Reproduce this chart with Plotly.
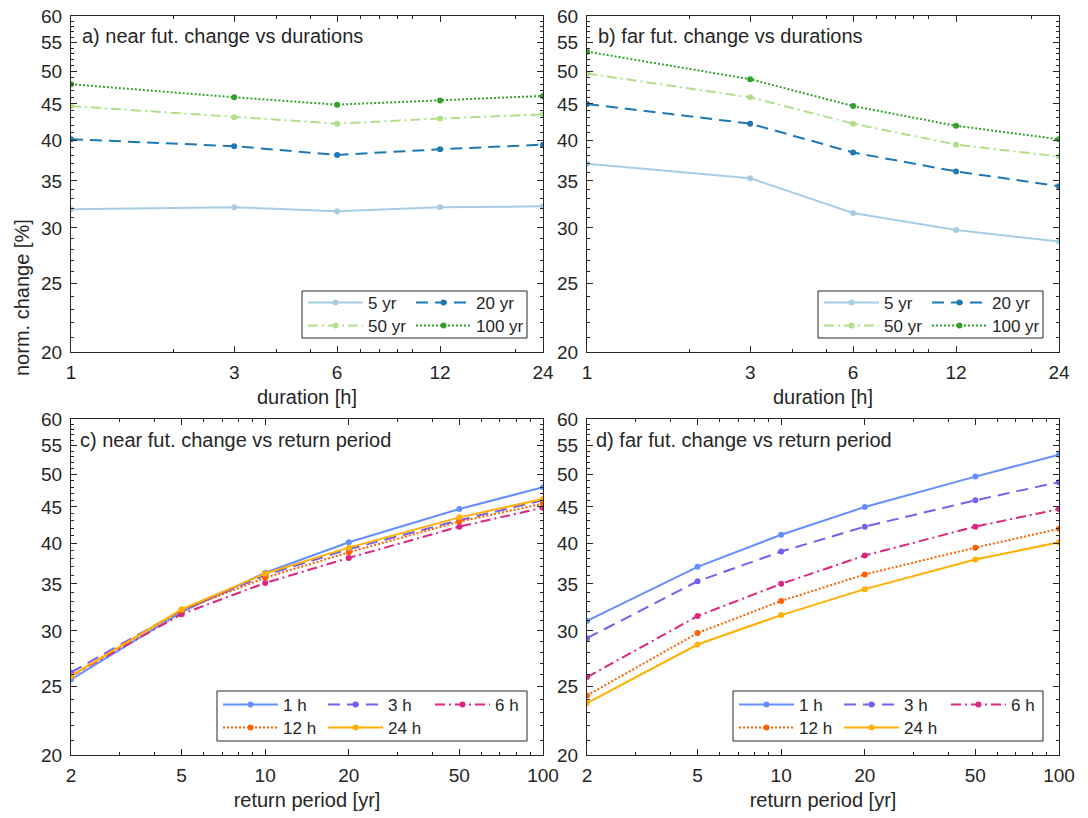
import plotly.graph_objects as go

# ---------------- data ----------------
durations = [1, 3, 6, 12, 24]
duration_labels = ["1 h", "3 h", "6 h", "12 h", "24 h"]
return_periods = [2, 5, 10, 20, 50, 100]
legend_periods = [5, 20, 50, 100]
period_labels = ["5 yr", "20 yr", "50 yr", "100 yr"]

# near future normalised change [%] per duration, over return_periods
near_1h = [25.6, 31.9, 36.3, 40.1, 44.7, 48.0]
near_3h = [26.2, 32.1, 36.0, 39.2, 43.1, 46.0]
near_6h = [25.9, 31.7, 35.1, 38.1, 42.2, 44.9]
near_12h = [25.9, 32.1, 35.7, 38.8, 42.9, 45.5]
near_24h = [25.9, 32.2, 36.2, 39.4, 43.5, 46.2]

# far future normalised change [%] per duration, over return_periods
far_1h = [31.0, 37.0, 41.1, 45.0, 49.7, 53.4]
far_3h = [29.3, 35.3, 38.9, 42.2, 46.0, 48.8]
far_6h = [25.8, 31.5, 35.0, 38.4, 42.2, 44.7]
far_12h = [24.3, 29.8, 33.1, 36.1, 39.4, 41.9]
far_24h = [23.7, 28.7, 31.6, 34.4, 37.9, 40.1]

near = [near_1h, near_3h, near_6h, near_12h, near_24h]
far = [far_1h, far_3h, far_6h, far_12h, far_24h]

y_ticks = [20, 25, 30, 35, 40, 45, 50, 55, 60]
x_ticks_top = [1, 3, 6, 12, 24]
x_ticks_bottom = [2, 5, 10, 20, 50, 100]

panel_titles = ["a) near fut. change vs durations", "b) far fut. change vs durations",
                "c) near fut. change vs return period", "d) far fut. change vs return period"]

# ---------------- styles ----------------
W, H = 1088, 818
FONT = "Liberation Sans, Arial, Helvetica, sans-serif"
TXT = "#262626"
period_colors = ["#a6cee3", "#1f78b4", "#b2df8a", "#33a02c"]
period_dash = ["solid", "12px,7px", "10px,4px,2px,4px", "2px,2px"]
dur_colors = ["#648FFF", "#785EF0", "#DC267F", "#FE6100", "#FFB000"]
dur_dash = ["solid", "12px,7px", "10px,4px,2px,4px", "2px,2px", "solid"]
LW = 2
MS = 6


def px_x(p):
    return p / W


def px_y(p):
    return 1 - p / H


# legend grid positions (px): column x of each entry, row y of each entry
period_leg_col = [0, 1, 0, 1]
period_leg_row = [0, 0, 1, 1]
dur_leg_col = [0, 1, 2, 0, 1]
dur_leg_row = [0, 0, 0, 1, 1]
leg_col_x = {1: [303, 411], 2: [819, 927], 3: [218, 323, 430], 4: [734, 839, 946]}
leg_row_y = {1: [303, 326], 2: [303, 326], 3: [705, 728], 4: [705, 728]}

fig = go.Figure()
layout = {}
leg_common = dict(
    orientation="v", bgcolor="rgba(0,0,0,0)", borderwidth=0, itemwidth=55,
    font=dict(family=FONT, size=17, color=TXT), xanchor="left", yanchor="middle",
    tracegroupgap=0, itemclick=False, itemdoubleclick=False,
)
leg_count = [0]


def new_legend(panel, col, row):
    leg_count[0] += 1
    name = "legend" if leg_count[0] == 1 else f"legend{leg_count[0]}"
    layout[name] = dict(leg_common, x=px_x(leg_col_x[panel][col]), y=px_y(leg_row_y[panel][row]))
    return name


for panel, data in [(1, near), (2, far)]:
    for k, rp in enumerate(legend_periods):
        j = return_periods.index(rp)
        yvals = [data[i][j] for i in range(len(durations))]
        fig.add_trace(go.Scatter(
            x=durations, y=yvals, mode="lines+markers", name=period_labels[k],
            line=dict(color=period_colors[k], width=LW, dash=period_dash[k]),
            marker=dict(color=period_colors[k], size=MS, symbol="circle"),
            xaxis="x" if panel == 1 else "x2", yaxis="y" if panel == 1 else "y2",
            legend=new_legend(panel, period_leg_col[k], period_leg_row[k]),
        ))

for panel, data in [(3, near), (4, far)]:
    for i, lab in enumerate(duration_labels):
        fig.add_trace(go.Scatter(
            x=return_periods, y=data[i], mode="lines+markers", name=lab,
            line=dict(color=dur_colors[i], width=LW, dash=dur_dash[i]),
            marker=dict(color=dur_colors[i], size=MS, symbol="circle"),
            xaxis=f"x{panel}", yaxis=f"y{panel}",
            legend=new_legend(panel, dur_leg_col[i], dur_leg_row[i]),
        ))

# ---------------- axes ----------------
x_dom = {1: (71, 543), 2: (587, 1059), 3: (71, 543), 4: (587, 1059)}
y_dom = {1: (16, 352), 2: (16, 352), 3: (419, 755), 4: (419, 755)}

minor_y = [v for v in range(20, 61)]
minor_top = [2, 4, 5, 7, 8, 9, 10, 20]
minor_bottom = [3, 4, 6, 7, 8, 9, 30, 40, 60, 70, 80, 90]

axis_common = dict(
    type="log", showgrid=False, zeroline=False, showline=True, linecolor=TXT, linewidth=1,
    mirror="ticks", ticks="inside", ticklen=6, tickwidth=1, tickcolor=TXT,
    tickfont=dict(family=FONT, size=19, color=TXT), ticklabeloverflow="allow",
)

for p in range(1, 5):
    xs = "" if p == 1 else str(p)
    top = p <= 2
    xt = x_ticks_top if top else x_ticks_bottom
    xr = [0, 1.380211] if top else [0.30103, 2]
    layout["xaxis" + xs] = dict(
        axis_common,
        domain=[px_x(x_dom[p][0]), px_x(x_dom[p][1])],
        anchor="y" + xs, range=xr, tickmode="array", tickvals=xt, ticktext=[str(v) for v in xt],
        minor=dict(tickmode="array", tickvals=minor_top if top else minor_bottom,
                   ticks="inside", ticklen=3, tickcolor=TXT, showgrid=False),
        ticklabelstandoff=3,
        title=dict(text="duration [h]" if top else "return period [yr]",
                   font=dict(family=FONT, size=20, color=TXT), standoff=8),
    )
    layout["yaxis" + xs] = dict(
        axis_common,
        domain=[px_y(y_dom[p][1]), px_y(y_dom[p][0])],
        anchor="x" + xs, range=[1.30103, 1.778151], tickmode="array", tickvals=y_ticks,
        ticktext=[str(v) for v in y_ticks],
        minor=dict(tickmode="array", tickvals=minor_y, ticks="inside", ticklen=3,
                   tickcolor=TXT, showgrid=False),
        ticklabelstandoff=4,
    )

legend_boxes = [(302, 291, 527, 338), (818, 291, 1043, 338), (217, 691, 527, 741), (733, 691, 1043, 741)]
shapes = [dict(type="rect", xref="paper", yref="paper", x0=px_x(a), x1=px_x(c), y0=px_y(d), y1=px_y(b),
               line=dict(color=TXT, width=1), fillcolor="white", layer="above")
          for (a, b, c, d) in legend_boxes]

title_pos = [(80, 36), (596, 36), (78, 440), (594, 440)]
annotations = [dict(text=t, x=px_x(x), y=px_y(y), xref="paper", yref="paper", xanchor="left",
                    yanchor="middle", showarrow=False, font=dict(family=FONT, size=20, color=TXT))
               for t, (x, y) in zip(panel_titles, title_pos)]
annotations.append(dict(text="norm. change [%]", x=px_x(22), y=px_y(298), xref="paper", yref="paper",
                        xanchor="center", yanchor="middle", textangle=-90, showarrow=False,
                        font=dict(family=FONT, size=20, color=TXT)))

fig.update_layout(
    width=W, height=H, margin=dict(l=0, r=0, t=0, b=0, autoexpand=False),
    paper_bgcolor="white", plot_bgcolor="white", showlegend=True,
    shapes=shapes, annotations=annotations, **layout,
)

# place the figure at the page's top-left corner (no default body margin), no mode bar
fig.write_html("out.html", config={"displayModeBar": False},
               post_script="document.body.style.margin='0';")
